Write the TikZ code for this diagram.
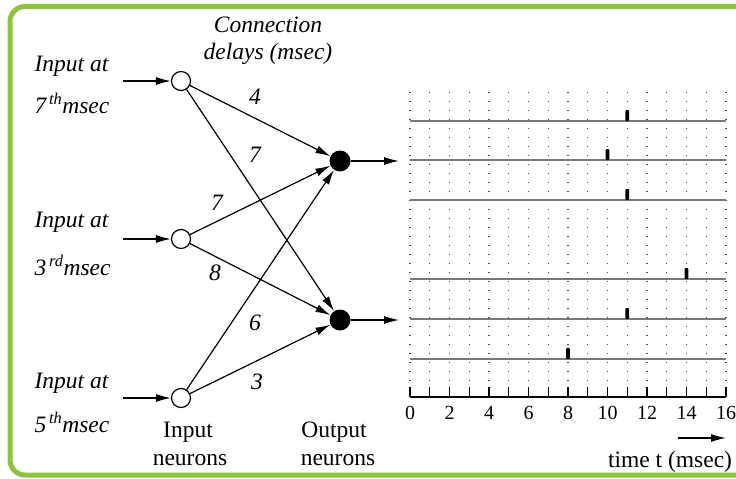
\documentclass[tikz,border=0pt]{standalone}
\usepackage{fontspec}
\setmainfont{Liberation Serif}
\usetikzlibrary{arrows.meta}
\definecolor{framegreen}{RGB}{141,196,62}
\definecolor{traingray}{RGB}{120,120,120}

\begin{document}
\begin{tikzpicture}[x=1pt, y=-1pt,
  every node/.style={font=\fontsize{23.5}{28}\selectfont},
  inneuron/.style={circle, draw, line width=1.2pt, fill=white, minimum size=19pt, inner sep=0pt},
  outneuron/.style={circle, fill=black, minimum size=21pt, inner sep=0pt},
  syn/.style={-{Latex[length=15pt,width=8pt]}, line width=1.2pt},
  delay/.style={font=\fontsize{23.5}{28}\selectfont\itshape},
  train/.style={traingray, line width=2pt},
  dotline/.style={black!70, line width=1.4pt, dash pattern=on 1.4pt off 7.6pt}]
  \useasboundingbox (0,0) rectangle (736,479);
  \clip (0,0) rectangle (736,479);

  % Green frame
  \draw[framegreen, line width=5pt, rounded corners=15pt] (10,6.5) rectangle (770,475);

  % Neurons
  \node[inneuron] (i1) at (181,81) {};
  \node[inneuron] (i2) at (181,239) {};
  \node[inneuron] (i3) at (181,398) {};
  \node[outneuron] (o1) at (340,161) {};
  \node[outneuron] (o2) at (340,320) {};

  % Inputs and outputs
  \coordinate (s1) at (123,81);
  \coordinate (s2) at (123,239);
  \coordinate (s3) at (123,398);
  \coordinate (e1) at (399,161);
  \coordinate (e2) at (399,320);
  \foreach \k in {1,2,3} \draw[syn] (s\k) -- (i\k);
  \draw[syn] (o1) -- (e1);
  \draw[syn] (o2) -- (e2);

  % Connections with delays
  \draw[syn] (i1) -- (o1);
  \draw[syn] (i1) -- (o2);
  \draw[syn] (i2) -- (o1);
  \draw[syn] (i2) -- (o2);
  \draw[syn] (i3) -- (o1);
  \draw[syn] (i3) -- (o2);
  \node[delay] (d11) at (255,97) {4};
  \node[delay] (d12) at (255,155) {7};
  \node[delay] (d21) at (217,203) {7};
  \node[delay] (d22) at (215,273) {8};
  \node[delay] (d31) at (255,323) {6};
  \node[delay] (d32) at (257,382) {3};

  % Labels
  \node[delay] (cap1) at (268,25) {Connection};
  \node[delay] (cap2) at (268,54) {delays (msec)};
  \node[delay, anchor=west] (in1a) at (31,66) {Input at};
  \node[delay, anchor=west] (in1b) at (31,103) {7\textsuperscript{\,th}msec};
  \node[delay, anchor=west] (in2a) at (31,222) {Input at};
  \node[delay, anchor=west] (in2b) at (31,265) {3\textsuperscript{\,rd}msec};
  \node[delay, anchor=west] (in3a) at (31,383) {Input at};
  \node[delay, anchor=west] (in3b) at (31,422) {5\textsuperscript{\,th}msec};
  \node (lin1) at (188,432) {Input};
  \node (lin2) at (190,460) {neurons};
  \node (lout1) at (334,432) {Output};
  \node (lout2) at (338,460) {neurons};

  % Spike trains
  \foreach \k in {0,...,16}
    \draw[dotline] ({410+19.75*\k},92) -- ({410+19.75*\k},386);
  \foreach \row/\fire in {121/11,160/10,200/11,279/14,319/11,359/8} {
    \draw[train] (410,\row) -- (726,\row);
    \fill[rounded corners=1pt] ({410+19.75*\fire-1.9},\row) rectangle ({410+19.75*\fire+1.9},\row-11);
  }

  % Time axis
  \draw[line width=1.3pt] (410,397) -- (726,397);
  \foreach \k in {0,...,16}
    \draw[line width=1.3pt] ({410+19.75*\k},387) -- ({410+19.75*\k},397);
  \foreach \k in {0,2,...,16}
    \node[font=\fontsize{20}{24}\selectfont] (t\k) at ({410+19.75*\k},413) {\k};
  \coordinate (ta) at (678,438);
  \coordinate (tb) at (726,438);
  \draw[syn] (ta) -- (tb);
  \node (tlabel) at (670,462) {time t (msec)};
\end{tikzpicture}
\end{document}
